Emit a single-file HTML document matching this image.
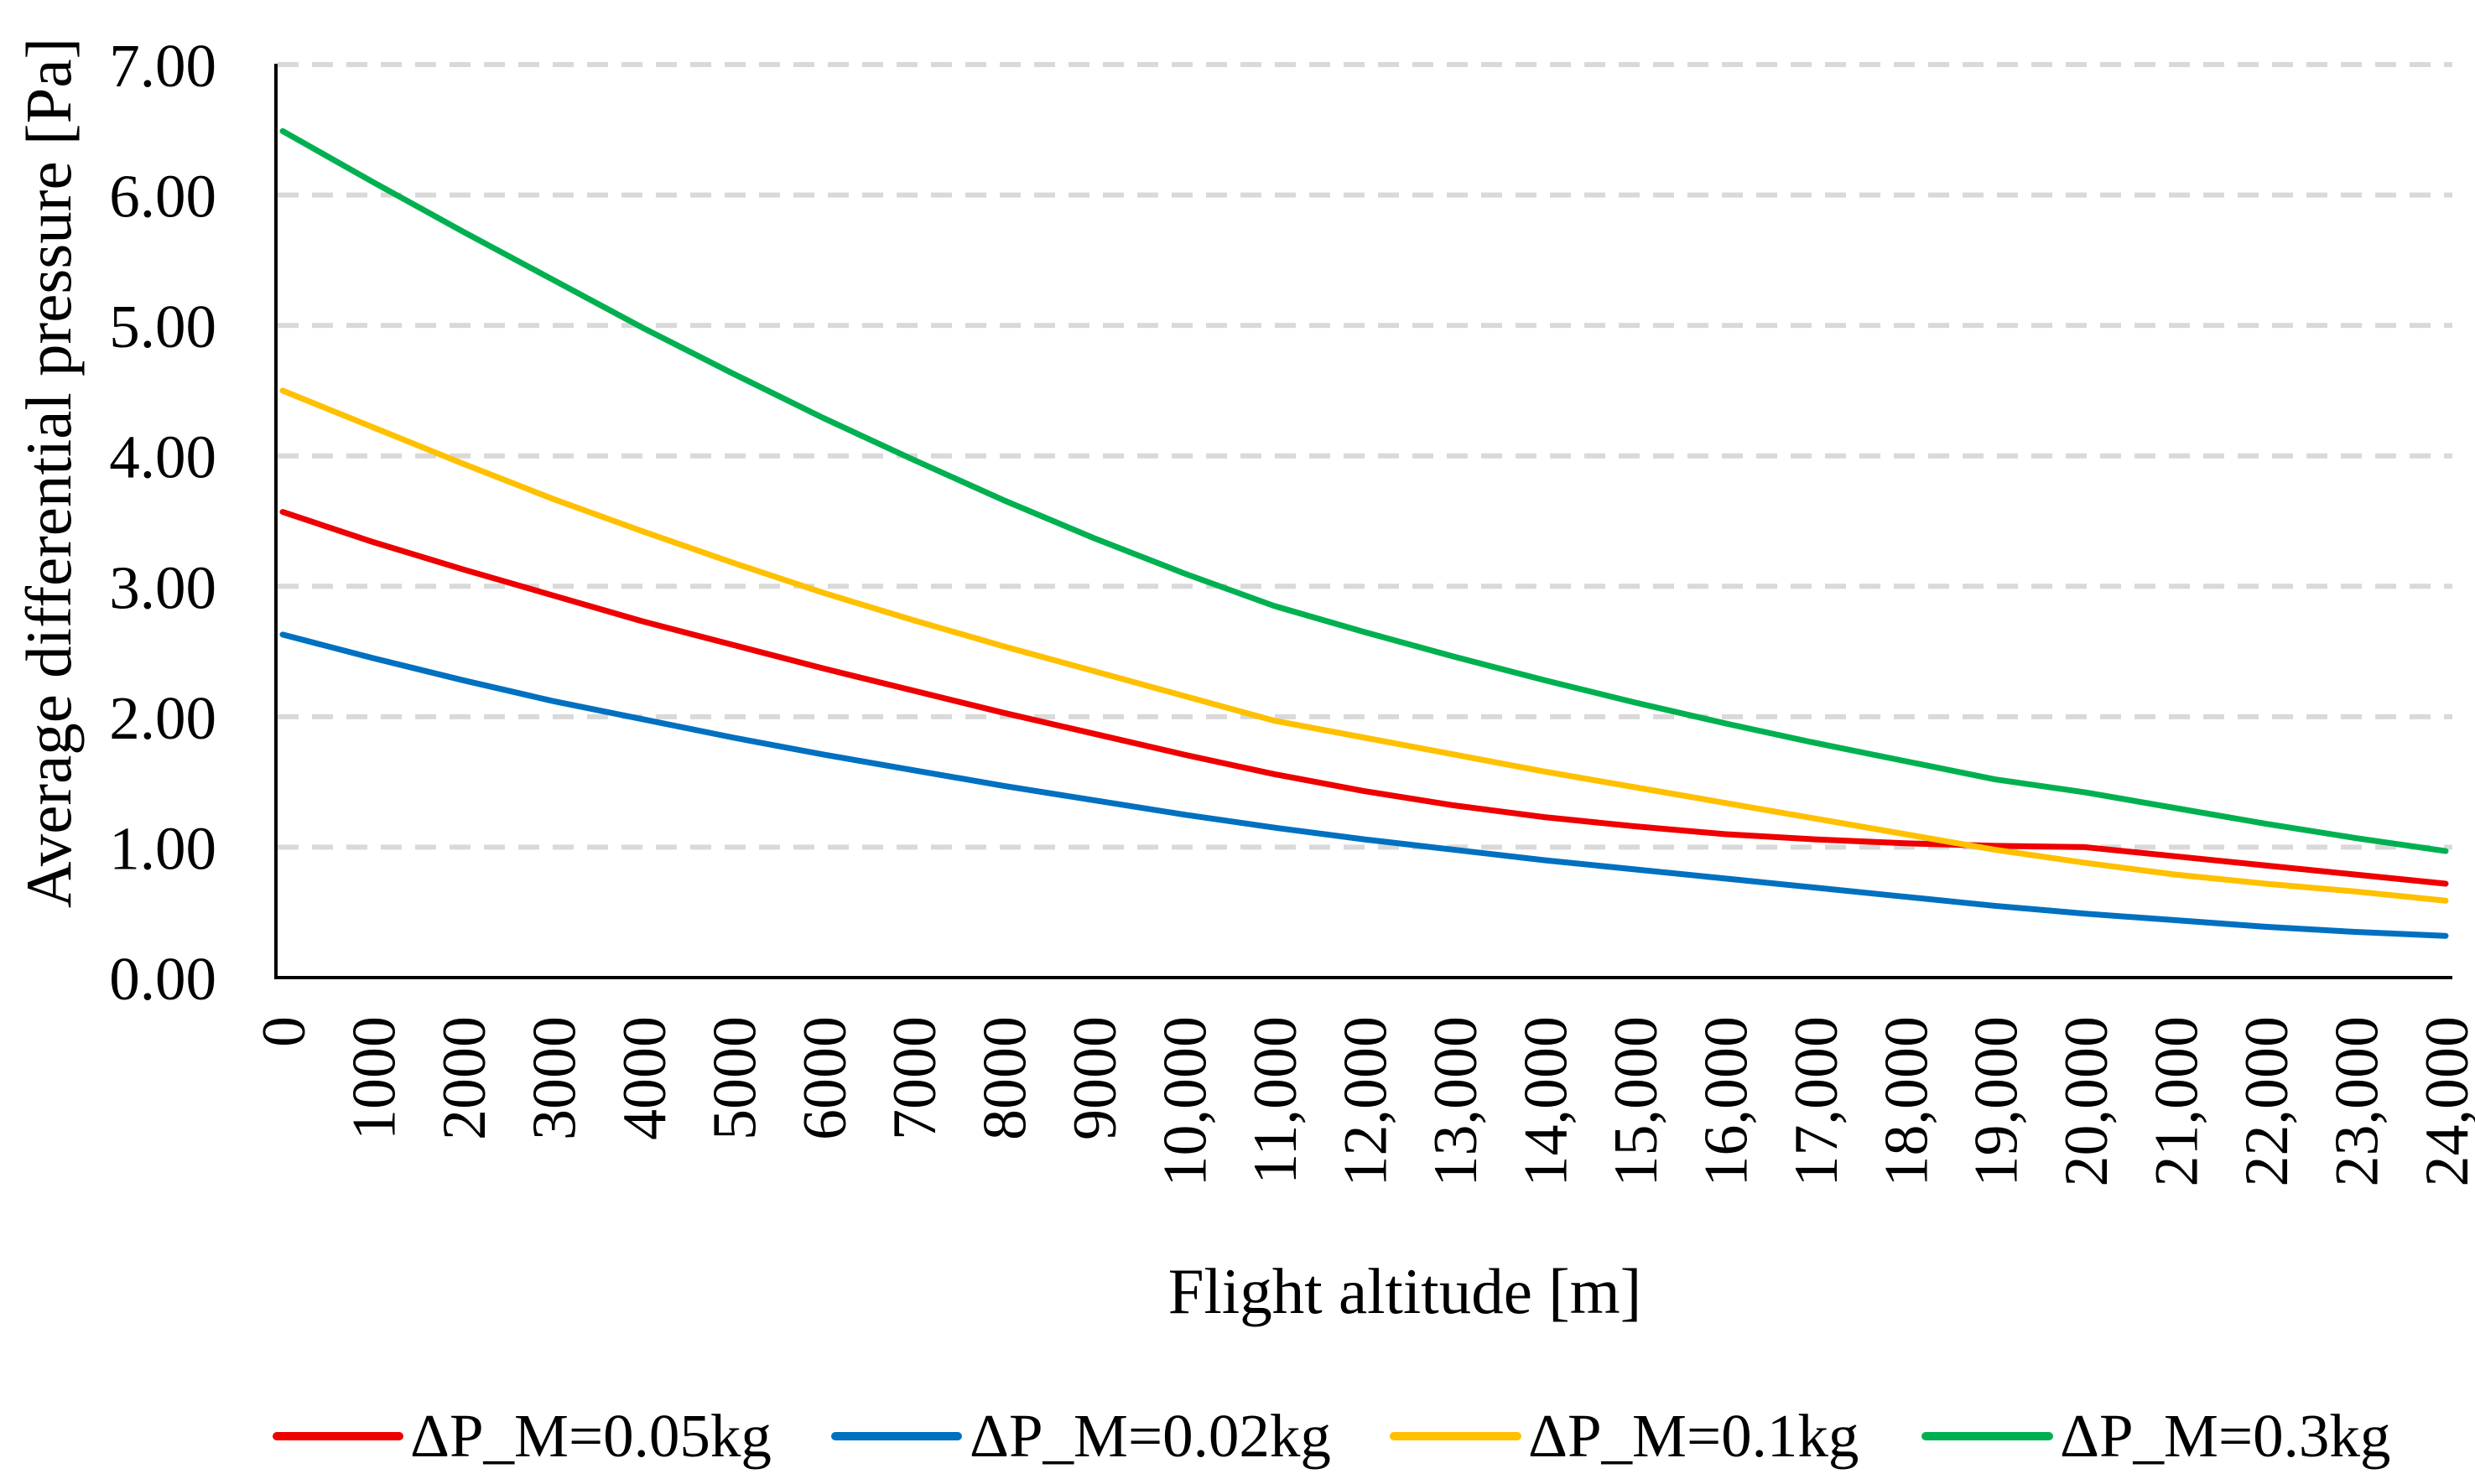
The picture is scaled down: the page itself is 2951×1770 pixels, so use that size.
<!DOCTYPE html>
<html><head><meta charset="utf-8"><style>
html,body{margin:0;padding:0;background:#fff}
svg{display:block}
text{font-family:"Liberation Serif",serif;fill:#000}
</style></head><body>
<svg id="chart" width="2951" height="1770" viewBox="0 0 2951 1770" xmlns="http://www.w3.org/2000/svg">
<g id="grid"></g>
<g id="yticks"></g>
<g id="xticks"></g>
<g id="series"></g>
<line x1="329" y1="76" x2="329" y2="1168" stroke="#000" stroke-width="4"/>
<line x1="327" y1="1166" x2="2924" y2="1166" stroke="#000" stroke-width="4"/>
<text transform="translate(84,564) rotate(-90)" text-anchor="middle" font-size="77">Average differential pressure [Pa]</text>
<text x="1675" y="1566" text-anchor="middle" font-size="77">Flight altitude [m]</text>
<g>
<g><line x1="330" y1="1713" x2="476" y2="1713" stroke="#EE0000" stroke-width="10" stroke-linecap="round"/><text x="489" y="1737" font-size="73">ΔP_M=0.05kg</text></g>
<g><line x1="996" y1="1713" x2="1142" y2="1713" stroke="#0070C0" stroke-width="10" stroke-linecap="round"/><text x="1156" y="1737" font-size="73">ΔP_M=0.02kg</text></g>
<g><line x1="1662" y1="1713" x2="1809" y2="1713" stroke="#FFC000" stroke-width="10" stroke-linecap="round"/><text x="1822" y="1737" font-size="73">ΔP_M=0.1kg</text></g>
<g><line x1="2296" y1="1713" x2="2443" y2="1713" stroke="#00B050" stroke-width="10" stroke-linecap="round"/><text x="2456" y="1737" font-size="73">ΔP_M=0.3kg</text></g>
</g>
</svg>
<script>
const categories = ["0","1000","2000","3000","4000","5000","6000","7000","8000","9000","10,000","11,000","12,000","13,000","14,000","15,000","16,000","17,000","18,000","19,000","20,000","21,000","22,000","23,000","24,000"];
const yTicks = [0,1,2,3,4,5,6,7];
const red005 = [3.57,3.34,3.13,2.93,2.73,2.55,2.37,2.2,2.03,1.87,1.71,1.56,1.43,1.32,1.23,1.16,1.1,1.06,1.03,1.01,1.0,0.93,0.86,0.79,0.72];
const blue002 = [2.63,2.45,2.28,2.12,1.98,1.84,1.71,1.59,1.47,1.36,1.25,1.15,1.06,0.98,0.9,0.83,0.76,0.69,0.62,0.55,0.49,0.44,0.39,0.35,0.32];
const yellow01 = [4.5,4.22,3.94,3.67,3.42,3.18,2.95,2.74,2.54,2.35,2.16,1.97,1.84,1.71,1.58,1.46,1.34,1.22,1.1,0.98,0.88,0.79,0.72,0.66,0.59];
const green03 = [6.49,6.1,5.72,5.35,4.98,4.63,4.29,3.97,3.66,3.37,3.1,2.85,2.65,2.46,2.28,2.11,1.95,1.8,1.66,1.52,1.42,1.3,1.18,1.07,0.97];

const NS="http://www.w3.org/2000/svg";
const X0=337,X1=2916,Y0=1166,Y7=77;
function xs(i){return X0+(X1-X0)*i/(categories.length-1);}
function ys(v){return Y0-(Y0-Y7)*v/7;}
const grid=document.getElementById('grid'), yt=document.getElementById('yticks'), xt=document.getElementById('xticks'), sg=document.getElementById('series');
yTicks.forEach(t=>{
  if(t>0){
    const l=document.createElementNS(NS,'line');
    
    
    l.setAttribute('x1',331);l.setAttribute('x2',2924);
    l.setAttribute('y1',ys(t));l.setAttribute('y2',ys(t));
    l.setAttribute('stroke','#D9D9D9');l.setAttribute('stroke-width','6');l.setAttribute('stroke-dasharray','25 16');
    grid.appendChild(l);
  }
  const tx=document.createElementNS(NS,'text');
  
  
  tx.setAttribute('x',258);tx.setAttribute('y',ys(t)+26);
  tx.setAttribute('text-anchor','end');tx.setAttribute('font-size','73');
  tx.textContent=t.toFixed(2);
  yt.appendChild(tx);
});
categories.forEach((c,i)=>{
  const tx=document.createElementNS(NS,'text');
  
  
  tx.setAttribute('transform','translate('+(xs(i)+26)+',1212) rotate(-90)');
  tx.setAttribute('text-anchor','end');tx.setAttribute('font-size','74');
  tx.textContent=c;
  xt.appendChild(tx);
});
function drawSeries(arr,color,name){
  const p=document.createElementNS(NS,'polyline');
  
  
  p.setAttribute('points',arr.map((v,i)=>xs(i)+','+ys(v)).join(' '));
  p.setAttribute('fill','none');p.setAttribute('stroke',color);p.setAttribute('stroke-width','7');
  p.setAttribute('stroke-linejoin','round');p.setAttribute('stroke-linecap','round');
  sg.appendChild(p);
}
drawSeries(red005,'#EE0000','series-005kg');
drawSeries(blue002,'#0070C0','series-002kg');
drawSeries(yellow01,'#FFC000','series-01kg');
drawSeries(green03,'#00B050','series-03kg');
</script>
</body></html>
